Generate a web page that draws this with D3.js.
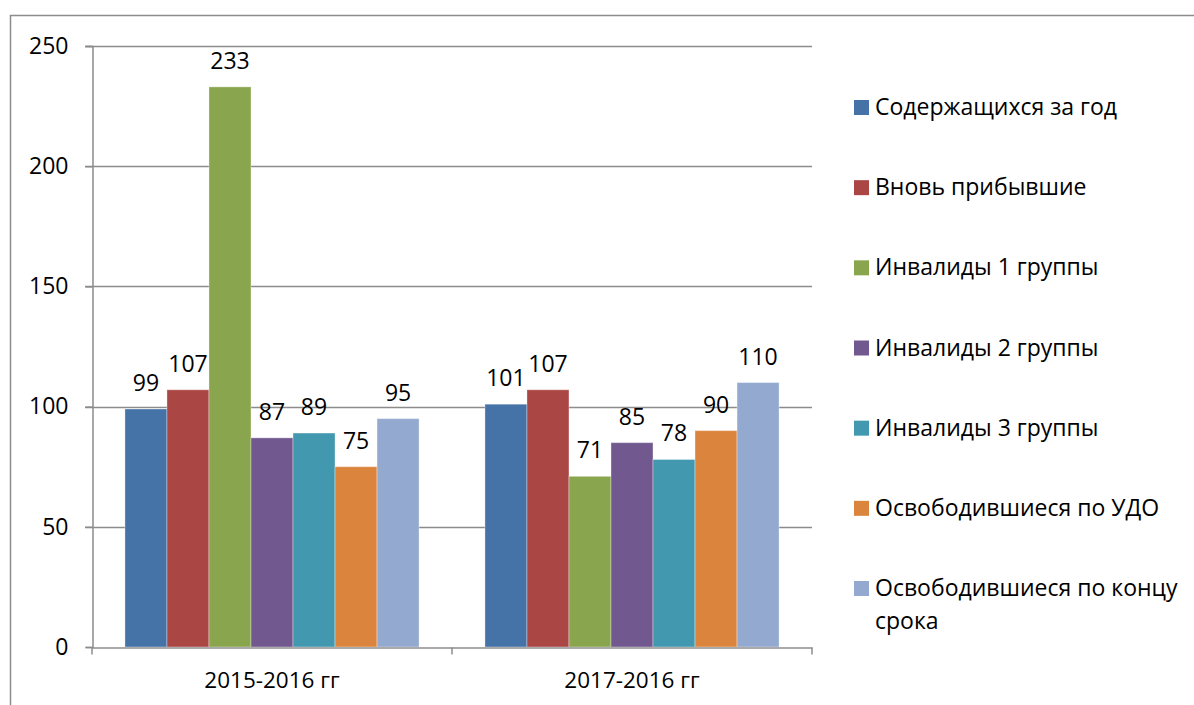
<!DOCTYPE html>
<html>
<head>
<meta charset="utf-8">
<script src="https://cdn.jsdelivr.net/npm/d3@7"></script>
<style>
  body { margin: 0; background: #fff; }
  text { font-family: "Open Sans", "Noto Sans", sans-serif; fill: #000; }
</style>
</head>
<body>
<div id="chart"></div>
<script>
// categories and series
var categories = ["2015-2016 гг", "2017-2016 гг"];
var seriesNames = [
  "Содержащихся за год",
  "Вновь прибывшие",
  "Инвалиды 1 группы",
  "Инвалиды 2 группы",
  "Инвалиды 3 группы",
  "Освободившиеся по УДО",
  "Освободившиеся по концу срока"
];
var values2015 = [99, 107, 233, 87, 89, 75, 95];
var values2017 = [101, 107, 71, 85, 78, 90, 110];
var yTicks = [0, 50, 100, 150, 200, 250];
var colors = ["#4572A7", "#AA4643", "#89A54E", "#71588F", "#4198AF", "#DB843D", "#93A9CF"];

var seriesValues = [values2015, values2017];

var width = 1194, height = 705;
var plotLeft = 92, plotRight = 812, plotTop = 46, plotBottom = 647;
var fontSize = "23px";

var svg = d3.select("#chart").append("svg")
  .attr("width", width)
  .attr("height", height);

// outer frame
svg.append("path")
  .attr("d", "M10.5," + height + " V15.5 H" + width)
  .attr("fill", "none")
  .attr("stroke", "#8c8c8c")
  .attr("stroke-width", 1.5);

var y = d3.scaleLinear().domain([0, 250]).range([plotBottom, plotTop]);
var x0 = d3.scaleBand().domain(categories).range([plotLeft, plotRight]).paddingInner(0.183).paddingOuter(0.0915);
var x1 = d3.scaleBand().domain(d3.range(seriesNames.length)).range([0, x0.bandwidth()]);

// grid lines
svg.append("g")
  .selectAll("line")
  .data(yTicks.filter(d => d > 0))
  .enter().append("line")
  .attr("x1", plotLeft - 7)
  .attr("x2", plotRight)
  .attr("y1", d => Math.round(y(d)) + 0.5)
  .attr("y2", d => Math.round(y(d)) + 0.5)
  .attr("stroke", "#8c8c8c")
  .attr("stroke-width", 1.5);

// bars
var groups = svg.append("g")
  .selectAll("g")
  .data(categories)
  .enter().append("g")
  .attr("transform", d => "translate(" + x0(d) + ",0)");

groups.selectAll("rect")
  .data((d, ci) => seriesValues[ci].map((v, si) => ({v: v, si: si})))
  .enter().append("rect")
  .attr("x", d => x1(d.si))
  .attr("width", x1.bandwidth())
  .attr("y", d => y(d.v))
  .attr("height", d => y(0) - y(d.v))
  .attr("fill", d => colors[d.si])
  .attr("stroke", "#fff")
  .attr("stroke-opacity", 0.35)
  .attr("stroke-width", 1);

groups.selectAll("text.val")
  .data((d, ci) => seriesValues[ci].map((v, si) => ({v: v, si: si})))
  .enter().append("text")
  .attr("class", "val")
  .attr("x", d => x1(d.si) + x1.bandwidth() / 2)
  .attr("y", d => y(d.v) - 18)
  .attr("text-anchor", "middle")
  .style("font-size", fontSize)
  .text(d => d.v);

// y axis
var yAxis = svg.append("g")
  .attr("transform", "translate(" + (plotLeft + 0.5) + ",0)")
  .call(d3.axisLeft(y).tickValues(yTicks).tickSize(7).tickPadding(17));
yAxis.select(".domain").attr("stroke", "#8c8c8c").attr("stroke-width", 1.5);
yAxis.selectAll(".tick line").attr("stroke", "#8c8c8c").attr("stroke-width", 1.5);
yAxis.selectAll(".tick text")
  .style("font-size", fontSize)
  .style("font-family", "'Open Sans', 'Noto Sans', sans-serif")
  .attr("fill", "#000");

// x axis
var xAxisScale = d3.scaleBand().domain(categories).range([plotLeft, plotRight]);
var xAxis = svg.append("g")
  .attr("transform", "translate(0," + (plotBottom + 0.5) + ")")
  .call(d3.axisBottom(xAxisScale).tickSize(0).tickPadding(25));
xAxis.select(".domain").attr("stroke", "#8c8c8c").attr("stroke-width", 1.5);
xAxis.selectAll(".tick text")
  .style("font-size", "22.5px")
  .style("font-family", "'Open Sans', 'Noto Sans', sans-serif")
  .attr("fill", "#000");
// category divider ticks
xAxis.selectAll("line.div")
  .data([plotLeft, plotLeft + xAxisScale.bandwidth(), plotRight])
  .enter().append("line")
  .attr("class", "div")
  .attr("x1", d => d).attr("x2", d => d)
  .attr("y1", 0).attr("y2", 7)
  .attr("stroke", "#8c8c8c")
  .attr("stroke-width", 1.5);

// legend
var legend = svg.append("g").attr("transform", "translate(854,0)");
var legendY = d3.scalePoint().domain(d3.range(seriesNames.length)).range([115, 596]);

var item = legend.selectAll("g")
  .data(seriesNames)
  .enter().append("g")
  .attr("transform", (d, i) => "translate(0," + legendY(i) + ")");

item.append("rect")
  .attr("x", 0).attr("y", -15)
  .attr("width", 15).attr("height", 15)
  .attr("fill", (d, i) => colors[i]);

item.append("text")
  .attr("x", 21)
  .attr("y", 0)
  .style("font-size", fontSize)
  .each(function(d) {
    var t = d3.select(this);
    var words = d.split(" ");
    var line = [];
    var tspan = t.append("tspan").attr("x", 21).attr("dy", 0);
    words.forEach(function(w) {
      line.push(w);
      tspan.text(line.join(" "));
      if (tspan.node().getComputedTextLength() > 318 && line.length > 1) {
        line.pop();
        tspan.text(line.join(" "));
        line = [w];
        tspan = t.append("tspan").attr("x", 21).attr("dy", 33).text(w);
      }
    });
  });
</script>
</body>
</html>
